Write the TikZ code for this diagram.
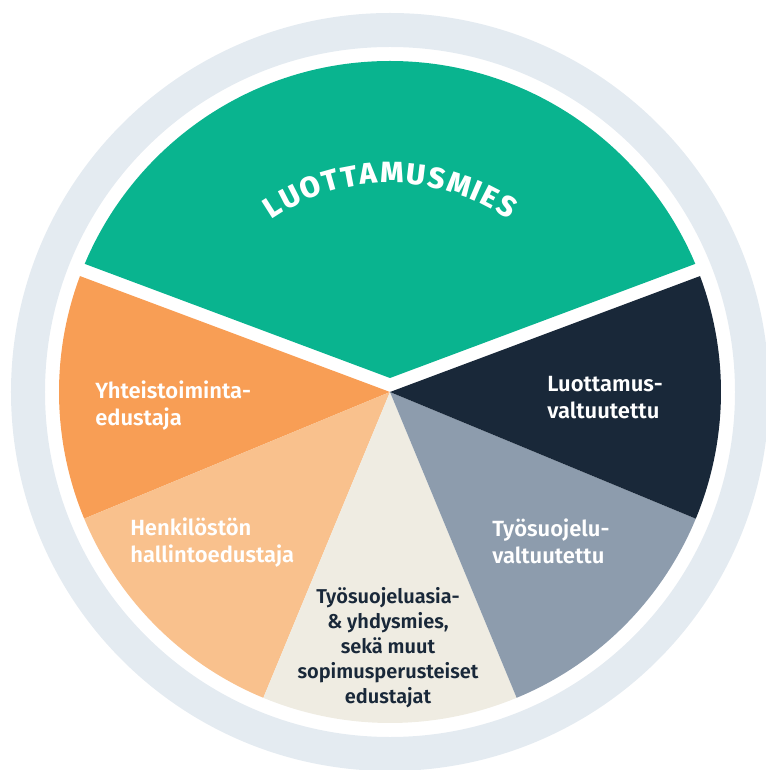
\documentclass[tikz,border=0pt]{standalone}
\usepackage{fontspec}
\setmainfont{Fira Sans}[BoldFont={Fira Sans SemiBold}]
\newfontfamily\titlefont{Fira Sans ExtraBold}
\usepackage{tikz}
\usetikzlibrary{decorations.text}
\definecolor{ringgray}{HTML}{E4EBF1}
\definecolor{mint}{HTML}{09B48F}
\definecolor{tangerine}{HTML}{F89E55}
\definecolor{peach}{HTML}{F9C18D}
\definecolor{sand}{HTML}{EFECE2}
\definecolor{slate}{HTML}{8D9CAD}
\definecolor{navy}{HTML}{192839}
\tikzset{
  lbl/.style={font=\bfseries\fontsize{16.5}{20.25}\selectfont, text=white, inner sep=0pt, align=left, anchor=west},
  lblc/.style={lbl, font=\bfseries\fontsize{15}{18.75}\selectfont, text=navy, align=center, anchor=center}
}

\begin{document}
\begin{tikzpicture}[x=0.75pt, y=0.75pt]
  \tikzset{wedge/.style={radius=331}}
  \useasboundingbox (-390,-378) rectangle (375,392);

  % outer ring
  \fill[ringgray, even odd rule] (0,0) circle[radius=379] circle[radius=345];

  % lower slices
  \fill[tangerine] (0,0) -- (159.5:331) arc[start angle=159.5, end angle=202.5, wedge] -- cycle;
  \fill[peach] (0,0) -- (202.5:331) arc[start angle=202.5, end angle=247.5, wedge] -- cycle;
  \fill[sand] (0,0) -- (247.5:331) arc[start angle=247.5, end angle=292.5, wedge] -- cycle;
  \fill[slate] (0,0) -- (292.5:331) arc[start angle=292.5, end angle=337.5, wedge] -- cycle;
  \fill[navy] (0,0) -- (337.5:331) arc[start angle=-22.5, end angle=20.5, wedge] -- cycle;

  % top slice, lifted so a white gap shows
  \begin{scope}
    \clip (0,0) circle[radius=331];
    \fill[mint, shift={(0,14)}] (0,0) -- (20.5:700) -- (90:700) -- (159.5:700) -- cycle;
  \end{scope}

  \path[decorate, decoration={text along path, text align={fit to path},
      text={|\color{white}\titlefont\fontsize{22}{26}\selectfont|LUOTTAMUSMIES}}]
    (124.5:209) arc[start angle=124.5, end angle=55.5, radius=209];

  \node[lbl] (yhteis) at (-295,-14) {Yhteistoiminta-\\edustaja};
  \node[lbl] (henk) at (-260,-151) {Henkilöstön\\hallintoedustaja};
  \node[lblc] (tsasia) at (-2,-256) {Työsuojeluasia-\\\& yhdysmies,\\sekä muut\\sopimusperusteiset\\edustajat};
  \node[lbl] (lvalt) at (157,-6) {Luottamus-\\valtuutettu};
  \node[lbl] (tvalt) at (102,-149) {Työsuojelu-\\valtuutettu};
\end{tikzpicture}
\end{document}
